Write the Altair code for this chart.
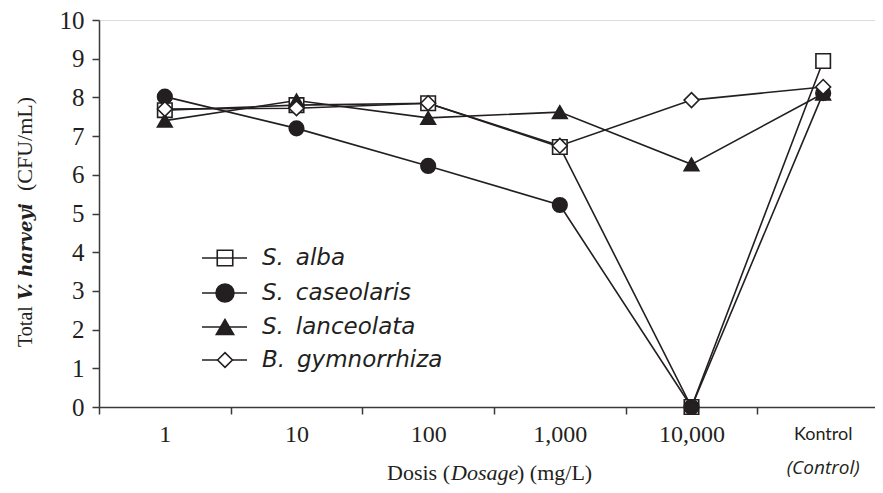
import altair as alt
import pandas as pd

# ---- data ----
categories = ["1", "10", "100", "1,000", "10,000", "Kontrol"]
series_names = ["S. alba", "S. caseolaris", "S. lanceolata", "B. gymnorrhiza"]
legend_labels = ["S.\u2009\u00a0alba", "S.\u2009\u00a0caseolaris", "S.\u2009\u00a0lanceolata", "B.\u2009\u00a0gymnorrhiza"]
s_alba = [7.67, 7.80, 7.85, 6.72, 0.0, 8.94]
s_caseolaris = [8.02, 7.20, 6.23, 5.22, 0.0, 8.11]
s_lanceolata = [7.40, 7.92, 7.47, 7.62, 6.27, 8.10]
b_gymnorrhiza = [7.70, 7.72, 7.85, 6.75, 7.93, 8.27]
y_ticks = [0, 1, 2, 3, 4, 5, 6, 7, 8, 9, 10]

x_title_parts = ["Dosis (", "Dosage", ") (mg/L)"]
y_title_parts = ["Total ", "V. harveyi", " (CFU/mL)"]
control_labels = ["Kontrol", "(Control)"]

# ---- styling ----
shapes = ["square", "circle", "triangle-up", "diamond"]
fills = ["white", "#231f20", "#231f20", "white"]
sizes = [210, 220, 220, 150]
legend_sizes = [240, 320, 300, 220]
INK = "#231f20"
AXIS = "#3a3a3a"
SERIF = "Liberation Serif"
SANS_IT = "DejaVu Sans"
NARROW = "Liberation Sans Narrow, Lato"

values = [s_alba, s_caseolaris, s_lanceolata, b_gymnorrhiza]
rows = []
for name, vals in zip(series_names, values):
    for i, (c, v) in enumerate(zip(categories, vals)):
        rows.append({"dose": c, "idx": i, "series": name, "value": v})
df = pd.DataFrame(rows)

W, H = 776, 387
xscale = alt.Scale(type="band", domain=categories, range=[0, 790], paddingInner=0, paddingOuter=0)
yscale = alt.Scale(domain=[0, 10], nice=False, zero=True)

x_enc = alt.X(
    "dose:N", scale=xscale, sort=categories,
    axis=alt.Axis(title=None, labelAngle=0, tickBand="extent", tickSize=7, labelPadding=8,
                  labelFont=SERIF, labelFontSize=24, labelColor=INK, domainColor=AXIS,
                  tickColor=AXIS, domainWidth=1.5, tickWidth=1.5, grid=False,
                  labelExpr="datum.value == 'Kontrol' ? '' : datum.value"),
)
y_enc = alt.Y(
    "value:Q", scale=yscale,
    axis=alt.Axis(title=None, values=y_ticks, tickSize=7, labelPadding=8, labelFont=SERIF,
                  labelFontSize=25, labelColor=INK, domainColor=AXIS, tickColor=AXIS,
                  domainWidth=1.5, tickWidth=1.5, grid=False),
)

base = alt.Chart(df)
lines = base.mark_line(color=INK, strokeWidth=1.6).encode(
    x=x_enc, y=y_enc, detail="series:N", order=alt.Order("idx:Q")
)
points = base.mark_point(filled=True, stroke=INK, strokeWidth=1.6, opacity=1).encode(
    x=x_enc, y=y_enc,
    shape=alt.Shape("series:N", scale=alt.Scale(domain=series_names, range=shapes), legend=None),
    fill=alt.Fill("series:N", scale=alt.Scale(domain=series_names, range=fills), legend=None),
    size=alt.Size("series:N", scale=alt.Scale(domain=series_names, range=sizes), legend=None),
)

layers = [lines, points]

one = alt.Data(values=[{"k": 1}])

# x title (mixed styles)
x_title_x = [351, 352, 418]
x_title_align = ["right", "left", "left"]
x_title_style = ["normal", "italic", "normal"]
for txt, xx, al, st in zip(x_title_parts, x_title_x, x_title_align, x_title_style):
    layers.append(alt.Chart(one).mark_text(
        font=SERIF, fontSize=22, fontStyle=st, color=INK, align=al, baseline="alphabetic"
    ).encode(x=alt.value(xx), y=alt.value(460), text=alt.value(txt)))

# y title (mixed styles, rotated)
y_title_y = [327, 280, 171]
y_title_font = [SERIF, "DejaVu Serif", SERIF]
y_title_size = [20, 18, 22]
y_title_style = ["normal", "italic", "normal"]
y_title_weight = ["normal", "bold", "normal"]
for txt, yy, fnt, fs, st, wt in zip(y_title_parts, y_title_y, y_title_font, y_title_size,
                                     y_title_style, y_title_weight):
    layers.append(alt.Chart(one).mark_text(
        font=fnt, fontSize=fs, fontStyle=st, fontWeight=wt, color=INK, align="left",
        baseline="alphabetic", angle=270
    ).encode(x=alt.value(-67), y=alt.value(yy), text=alt.value(txt)))

# Kontrol (Control) tick label
ctrl_df = pd.DataFrame({"dose": ["Kontrol"]})
layers.append(alt.Chart(ctrl_df).mark_text(
    font=NARROW, fontSize=18, color=INK, baseline="alphabetic"
).encode(x=alt.X("dose:N", scale=xscale, sort=categories), y=alt.value(420),
         text=alt.value(control_labels[0])))
layers.append(alt.Chart(ctrl_df).mark_text(
    font="Open Sans", fontSize=19, fontStyle="italic", color=INK, baseline="alphabetic"
).encode(x=alt.X("dose:N", scale=xscale, sort=categories), y=alt.value(454),
         text=alt.value(control_labels[1])))

# custom legend
leg_y = [238, 273, 307, 340]
for lab, shp, fl, sz, yy in zip(legend_labels, shapes, fills, legend_sizes, leg_y):
    layers.append(alt.Chart(one).mark_rule(color=INK, strokeWidth=1.6).encode(
        x=alt.value(103), x2=alt.value(148), y=alt.value(yy)))
    layers.append(alt.Chart(one).mark_point(
        filled=True, shape=shp, fill=("transparent" if shp == "square" else fl),
        stroke=INK, strokeWidth=1.6, size=sz, opacity=1
    ).encode(x=alt.value(126), y=alt.value(yy)))
    layers.append(alt.Chart(one).mark_text(
        font=SANS_IT, fontStyle="italic", fontSize=23, color=INK, align="left", baseline="middle"
    ).encode(x=alt.value(163), y=alt.value(yy), text=alt.value(lab)))

chart = alt.layer(*layers).properties(
    width=W, height=H,
    autosize=alt.AutoSizeParams(type="none"),
    padding={"left": 91, "top": 12, "right": 0, "bottom": 78},
).configure_view(stroke=None).configure(background="white")

chart.save("out.html", embed_options={"renderer": "svg", "actions": False})
